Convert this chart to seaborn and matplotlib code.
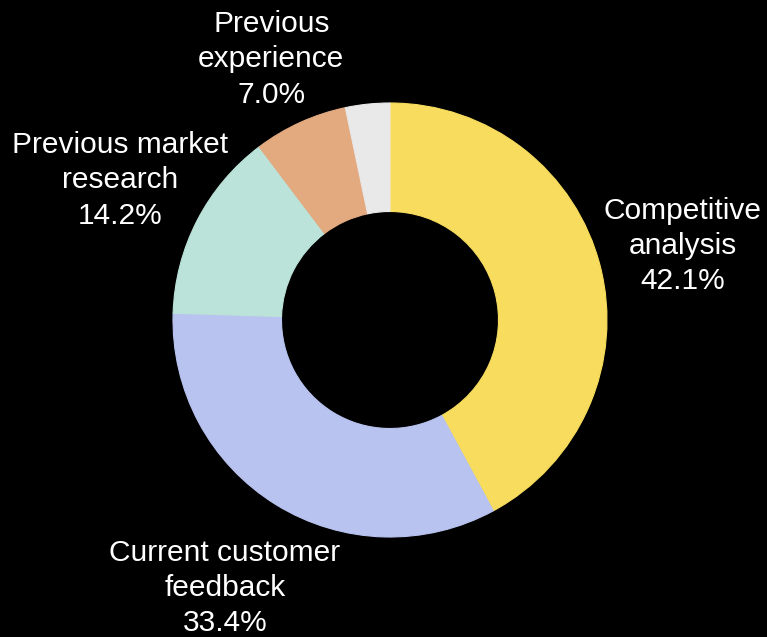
import numpy as np
import matplotlib
matplotlib.use("Agg")
import matplotlib.pyplot as plt
import seaborn as sns

# Share of respondents by information source
categories = ["Competitive\nanalysis", "Current customer\nfeedback",
              "Previous market\nresearch", "Previous\nexperience", "Other"]
shares = [42.1, 33.4, 14.2, 7.0, 3.3]
show_label = [True, True, True, True, False]
colors = ["#F7DC5D", "#B8C3F0", "#BCE3D9", "#E3AA80", "#E9E9E9"]

# Radial distance of each outside label (in units of the outer radius)
label_radius = [1.39, 1.45, 1.40, 1.32, 1.3]

sns.set_theme(style="dark", rc={"figure.facecolor": "black", "axes.facecolor": "black",
                                "savefig.facecolor": "black"})
plt.rcParams["font.family"] = ["Liberation Sans", "DejaVu Sans"]

W, H, DPI = 767, 637, 100
fig = plt.figure(figsize=(W / DPI, H / DPI), dpi=DPI)
ax = fig.add_axes([0, 0, 1, 1])
ax.set_facecolor("black")

R_PX = 217.0
cx, cy = 390.0, 320.0

wedges, _ = ax.pie(shares, colors=colors, startangle=90, counterclock=False,
                   radius=1.0, wedgeprops=dict(width=0.5, linewidth=0.8),
                   frame=True)
# Edge each wedge in its own colour so no seams show between slices
for w in wedges:
    w.set_edgecolor(w.get_facecolor())

ax.set_xlim(-cx / R_PX, (W - cx) / R_PX)
ax.set_ylim(-(H - cy) / R_PX, cy / R_PX)
ax.set_aspect("auto")
ax.set_axis_off()

total = sum(shares)
for w, name, val, show, rr in zip(wedges, categories, shares, show_label, label_radius):
    if not show:
        continue
    mid = np.deg2rad((w.theta1 + w.theta2) / 2.0)
    x, y = rr * np.cos(mid), rr * np.sin(mid)
    ax.text(x, y, f"{name}\n{val / total * 100:.1f}%", ha="center", va="center",
            color="white", fontsize=21.5, linespacing=1.33)

fig.savefig("out.png", dpi=DPI, facecolor="black")
